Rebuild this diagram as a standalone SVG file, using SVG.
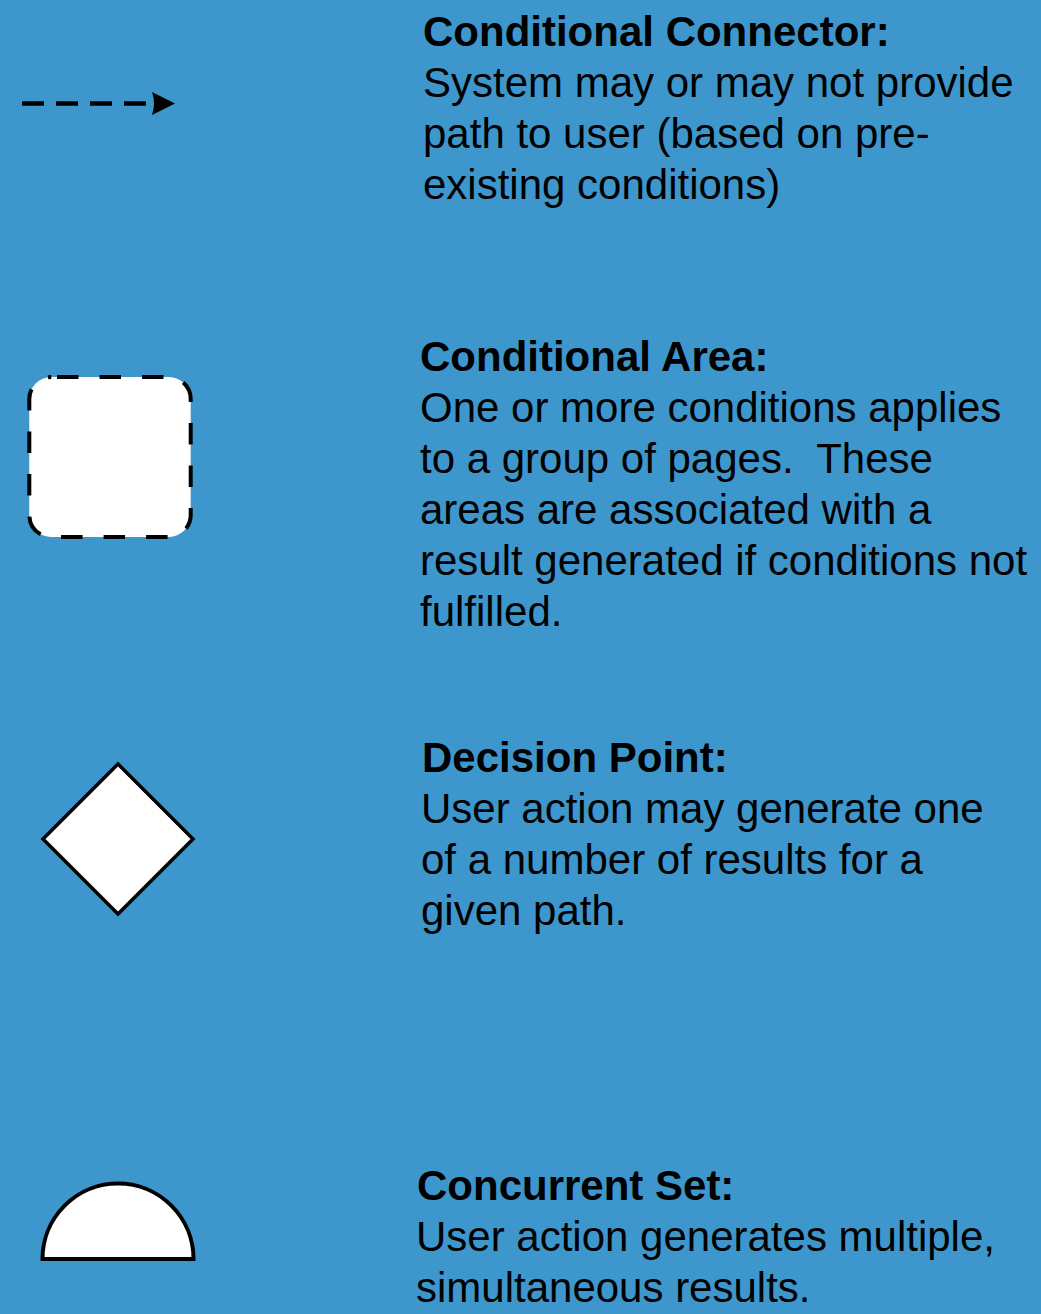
<svg xmlns="http://www.w3.org/2000/svg" width="1041" height="1314" viewBox="0 0 1041 1314">
<style>
  .t { font-family: "Liberation Sans", Arial, Helvetica, sans-serif; font-size: 42px; fill: #000; white-space: pre; }
  .b { font-weight: bold; }
  .shape { fill: #fff; stroke: #000; }
</style>
<rect x="0" y="0" width="1041" height="1314" fill="#3d97cc"/>

<g id="connectors">
  <path d="M22,103.5 L146,103.5" stroke="#000" stroke-width="4.5" stroke-dasharray="22 12" fill="none"/>
  <path d="M152,92 L175,103.5 L152,115 Q156,103.5 152,92 Z" fill="#000"/>
</g>

<g id="legend-conditional-connector">
  <text class="t b" x="423" y="46">Conditional Connector:</text>
  <text class="t" x="423" y="97">System may or may not provide</text>
  <text class="t" x="423" y="148">path to user (based on pre-</text>
  <text class="t" x="423" y="199">existing conditions)</text>
</g>

<g id="node-conditional-area">
  <rect class="shape" x="29.3" y="377" width="161.4" height="160" rx="22" ry="22" stroke-width="4" stroke-dasharray="21.5 21" stroke-dashoffset="36.8"/>
</g>
<g id="legend-conditional-area">
  <text class="t b" x="420" y="371">Conditional Area:</text>
  <text class="t" x="420" y="422">One or more conditions applies</text>
  <text class="t" x="420" y="473" xml:space="preserve">to a group of pages.  These</text>
  <text class="t" x="420" y="524">areas are associated with a</text>
  <text class="t" x="420" y="575">result generated if conditions not</text>
  <text class="t" x="420" y="626">fulfilled.</text>
</g>

<g id="node-decision-point">
  <polygon class="shape" points="118,764 193,839 118,914 43,839" stroke-width="3.5"/>
</g>
<g id="legend-decision-point">
  <text class="t b" x="422" y="772">Decision Point:</text>
  <text class="t" x="421" y="823">User action may generate one</text>
  <text class="t" x="421" y="874">of a number of results for a</text>
  <text class="t" x="421" y="925">given path.</text>
</g>

<g id="node-concurrent-set">
  <path class="shape" d="M42.5,1259 A75.5,75.5 0 0 1 193.5,1259 Z" stroke-width="4"/>
</g>
<g id="legend-concurrent-set">
  <text class="t b" x="417" y="1200">Concurrent Set:</text>
  <text class="t" x="416" y="1251">User action generates multiple,</text>
  <text class="t" x="416" y="1302">simultaneous results.</text>
</g>
</svg>
